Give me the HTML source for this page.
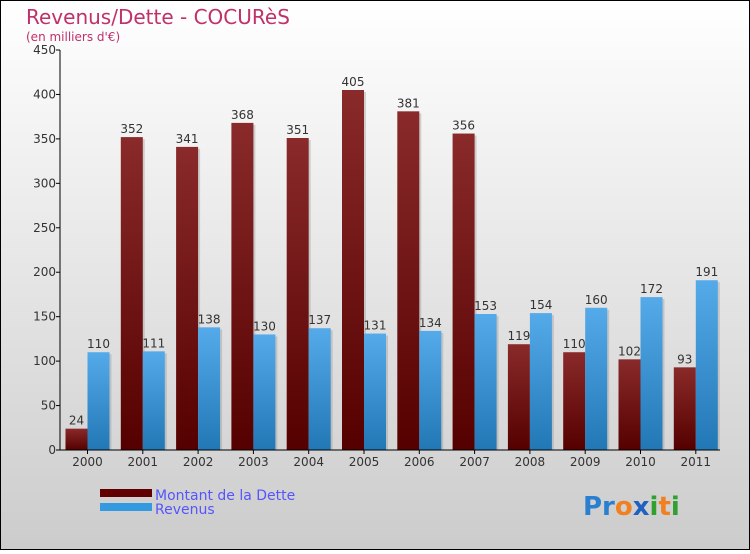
<!DOCTYPE html>
<html><head><meta charset="utf-8"><style>
body{margin:0}
#c{width:750px;height:550px;position:relative;font-family:"DejaVu Sans","Liberation Sans",sans-serif}
</style></head><body>
<div id="c">
<svg id="s" width="750" height="550" xmlns="http://www.w3.org/2000/svg">
<defs>
<linearGradient id="bg" x1="0" y1="0" x2="0" y2="1"><stop offset="0" stop-color="#ffffff"/><stop offset="1" stop-color="#cccccc"/></linearGradient>
<linearGradient id="gd" x1="0" y1="0" x2="0" y2="1"><stop offset="0" stop-color="#8a2a2a"/><stop offset="1" stop-color="#550000"/></linearGradient>
<linearGradient id="gr" x1="0" y1="0" x2="0" y2="1"><stop offset="0" stop-color="#55aaea"/><stop offset="1" stop-color="#2277b5"/></linearGradient>
</defs>
<rect x="0.5" y="0.5" width="749" height="549" fill="url(#bg)" stroke="#000"/>
<text x="26" y="24" font-size="20" fill="#c0306a">Revenus/Dette - COCURèS</text>
<text x="26" y="41" font-size="12" fill="#c0306a">(en milliers d'€)</text>
<g id="plot"></g>
<rect x="100" y="489" width="52" height="8" fill="#600000"/>
<rect x="100" y="503" width="52" height="8" fill="#3399e0"/>
<text x="155" y="500" font-size="14" fill="#5555ff">Montant de la Dette</text>
<text x="155" y="514" font-size="14" fill="#5555ff">Revenus</text>
<text x="583" y="515" font-size="26" font-weight="bold"><tspan fill="#2a7fd0">Pr</tspan><tspan fill="#f08020">o</tspan><tspan fill="#2060c0">x</tspan><tspan fill="#30a030">i</tspan><tspan fill="#f08020">t</tspan><tspan fill="#30a030">i</tspan></text>
</svg>
</div>
<script>
const years=["2000","2001","2002","2003","2004","2005","2006","2007","2008","2009","2010","2011"];
const dette=[24,352,341,368,351,405,381,356,119,110,102,93];
const revenus=[110,111,138,130,137,131,134,153,154,160,172,191];
const yTicks=[0,50,100,150,200,250,300,350,400,450];
const NS="http://www.w3.org/2000/svg";
const g=document.getElementById('plot');
const x0=60,x1=720,yb=450,yt=50,ymax=450;
const y=v=>yb-(v/ymax)*(yb-yt);
const step=55.3;
const bw=22;
function mk(t,a){const e=document.createElementNS(NS,t);for(const k in a)e.setAttribute(k,a[k]);g.appendChild(e);return e;}
yTicks.forEach(v=>{
 const l=mk('line',{x1:x0-4,x2:x0,y1:y(v),y2:y(v),stroke:'#000'});
 
 
 const t=mk('text',{x:x0-4,y:y(v)+4,'text-anchor':'end','font-size':12,fill:'#333'});
 t.textContent=v;
 
 
});
years.forEach((yr,i)=>{
 const cx=x0+27.5+step*i;
 [[dette[i],'url(#gd)',cx-bw,'dette'],[revenus[i],'url(#gr)',cx,'revenus']].forEach(([v,f,bx,n])=>{
  mk('rect',{x:bx+2,y:y(v)+2,width:bw,height:yb-y(v)-2,fill:'#999',opacity:0.4});
  const r=mk('rect',{x:bx,y:y(v),width:bw,height:yb-y(v),fill:f});
  
  
  const t=mk('text',{x:bx+bw/2,y:y(v)-4,'text-anchor':'middle','font-size':12,fill:'#333'});
  t.textContent=v;
  
  
 });
 const tk=mk('line',{x1:cx,x2:cx,y1:yb,y2:yb+4,stroke:'#000'});
 
 
 const t=mk('text',{x:cx,y:yb+16,'text-anchor':'middle','font-size':12,fill:'#333'});
 t.textContent=yr;
 
 
});
const ya=mk('line',{x1:x0,x2:x0,y1:yt,y2:yb,stroke:'#000'});


const xa=mk('line',{x1:x0,x2:x1,y1:yb,y2:yb,stroke:'#000'});


</script>
</body></html>
